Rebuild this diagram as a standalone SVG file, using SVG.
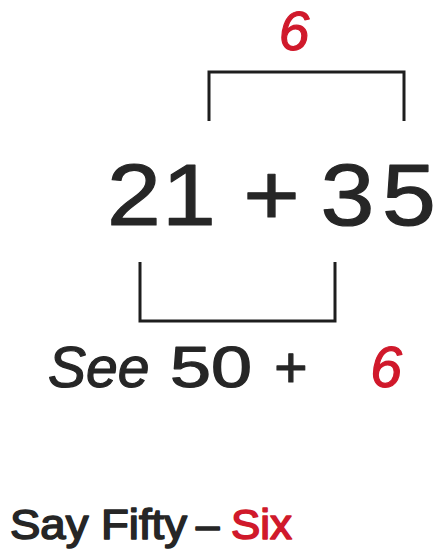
<svg xmlns="http://www.w3.org/2000/svg" width="443" height="549" viewBox="0 0 443 549">
  <style>
    .ink { fill: #262626; stroke: #262626; stroke-width: 1.2; stroke-linejoin: round; font-family: "Liberation Sans", Arial, sans-serif; }
    .red { fill: #d0192b; stroke: #d0192b; stroke-width: 1.2; stroke-linejoin: round; font-family: "Liberation Sans", Arial, sans-serif; }
    .it { font-style: italic; }
    .big { font-size: 88px; text-anchor: middle; }
    .mid { font-size: 57px; }
    .small { font-size: 42px; stroke-width: 1.6; }
    .bracket { fill: none; stroke: #1e1e1e; stroke-width: 3; stroke-linecap: butt; stroke-linejoin: miter; }
  </style>
  <rect width="443" height="549" fill="#ffffff"/>

  <g id="connectors">
    <path class="bracket" d="M209,121 V72 H404 V121"/>
    <path class="bracket" d="M140,262 V321 H335 V262"/>
  </g>

  <g id="top-six">
    <text class="red it" x="294" y="50" font-size="55" text-anchor="middle">6</text>
  </g>

  <g id="sum">
    <text class="ink big" transform="translate(134,225) scale(1.1,1)">2</text>
    <text class="ink big" transform="translate(189,225) scale(1.1,1)">1</text>
    <text class="ink big" transform="translate(271.5,225) scale(1.1,1)">+</text>
    <text class="ink big" transform="translate(347.5,225) scale(1.1,1)">3</text>
    <text class="ink big" transform="translate(409,225) scale(1.1,1)">5</text>
  </g>

  <g id="see-line">
    <text class="ink mid it" x="48" y="387">See</text>
    <text class="ink mid" x="170" y="387" textLength="82" lengthAdjust="spacingAndGlyphs">50</text>
    <text class="ink mid" x="291" y="387" text-anchor="middle">+</text>
    <text class="red mid it" x="386" y="387" text-anchor="middle">6</text>
  </g>

  <g id="say-line">
    <text class="ink small" x="10" y="539" textLength="177" lengthAdjust="spacingAndGlyphs">Say Fifty</text>
    <text class="ink small" x="196" y="539">–</text>
    <text class="red small" x="231" y="539" textLength="61" lengthAdjust="spacingAndGlyphs">Six</text>
  </g>
</svg>
